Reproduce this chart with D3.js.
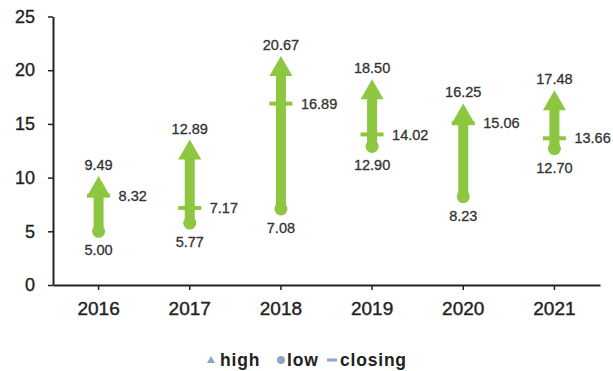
<!DOCTYPE html>
<html>
<head>
<meta charset="utf-8">
<script src="https://cdn.jsdelivr.net/npm/d3@7"></script>
<style>
  html, body { margin: 0; padding: 0; background: #fff; }
  svg { display: block; font-family: "Liberation Sans", Arial, Helvetica, sans-serif; }
</style>
</head>
<body>
<svg id="chart" width="613" height="371"></svg>
<script>
const years = ["2016", "2017", "2018", "2019", "2020", "2021"];
const high = [9.49, 12.89, 20.67, 18.50, 16.25, 17.48];
const low = [5.00, 5.77, 7.08, 12.90, 8.23, 12.70];
const closing = [8.32, 7.17, 16.89, 14.02, 15.06, 13.66];
const yTicks = [0, 5, 10, 15, 20, 25];
const legendItems = ["high", "low", "closing"];

const green = "#8DC63F";
const legendColor = "#8EA6C5";
const textColor = "#222";

const svg = d3.select("#chart");
const x = d3.scaleBand().domain(years).range([53, 600]).padding(0);
const y = d3.scaleLinear().domain([0, 25]).range([285, 16.5]);

// Y axis
const yAxis = svg.append("g")
  .attr("transform", "translate(53,0)")
  .call(d3.axisLeft(y).tickValues(yTicks).tickSize(5).tickSizeOuter(0).tickPadding(13));
yAxis.select(".domain").attr("stroke", "#222").attr("stroke-width", 2);
yAxis.selectAll(".tick line").attr("stroke", "#222").attr("stroke-width", 1.5);
yAxis.selectAll(".tick text").attr("fill", textColor).attr("font-size", 18).attr("font-family", null)
  .attr("stroke", textColor).attr("stroke-width", 0.35);

// X axis
const xAxis = svg.append("g")
  .attr("transform", "translate(0,285)")
  .call(d3.axisBottom(x).tickSize(5).tickSizeOuter(0).tickPadding(12));
xAxis.select(".domain").attr("stroke", "#222").attr("stroke-width", 2);
xAxis.selectAll(".tick line").attr("stroke", "#222").attr("stroke-width", 1.5);
xAxis.selectAll(".tick text").attr("fill", textColor).attr("font-size", 19).attr("font-family", null)
  .attr("stroke", textColor).attr("stroke-width", 0.4);

const data = years.map((yr, i) => ({ yr, high: high[i], low: low[i], close: closing[i] }));
const cx = d => x(d.yr) + x.bandwidth() / 2;

const g = svg.append("g");
const headTip = 7, headBase = 13, headHalf = 11.5, stemHalf = 5;

// stems
g.selectAll("rect.stem").data(data).join("rect")
  .attr("class", "stem")
  .attr("x", d => cx(d) - stemHalf)
  .attr("width", stemHalf * 2)
  .attr("y", d => y(d.high) + headBase - 1)
  .attr("height", d => y(d.low) - (y(d.high) + headBase - 1))
  .attr("fill", green);

// arrow heads
g.selectAll("path.head").data(data).join("path")
  .attr("class", "head")
  .attr("d", d => {
    const c = cx(d), t = y(d.high) - headTip, b = y(d.high) + headBase;
    return `M${c},${t}L${c + headHalf},${b}L${c - headHalf},${b}Z`;
  })
  .attr("fill", green);

// low circles
g.selectAll("circle.low").data(data).join("circle")
  .attr("class", "low")
  .attr("cx", cx)
  .attr("cy", d => y(d.low))
  .attr("r", 6.5)
  .attr("fill", green);

// closing bars
g.selectAll("rect.close").data(data).join("rect")
  .attr("class", "close")
  .attr("x", d => cx(d) - 11.5)
  .attr("width", 23)
  .attr("y", d => y(d.close) - 2)
  .attr("height", 4)
  .attr("fill", green);

// labels
const lbl = svg.append("g").attr("fill", "#333").attr("font-size", 14.5)
  .attr("stroke", "#333").attr("stroke-width", 0.3);
lbl.selectAll("text.hl").data(data).join("text")
  .attr("x", cx).attr("y", d => y(d.high) - 13)
  .attr("text-anchor", "middle")
  .text(d => d.high.toFixed(2));
lbl.selectAll("text.ll").data(data).join("text")
  .attr("x", cx).attr("y", d => y(d.low) + 24)
  .attr("text-anchor", "middle")
  .text(d => d.low.toFixed(2));
lbl.selectAll("text.cl").data(data).join("text")
  .attr("x", d => cx(d) + 20).attr("y", d => y(d.close))
  .attr("dy", "0.35em")
  .text(d => d.close.toFixed(2));

// legend
const legend = svg.append("g").attr("transform", "translate(0,360)");
const lx = [211, 281, 332];
const tx = [220, 287, 340];
legend.append("path").attr("d", `M${lx[0]},-4L${lx[0] + 4},3L${lx[0] - 4},3Z`).attr("fill", legendColor);
legend.append("circle").attr("cx", lx[1]).attr("cy", 0).attr("r", 4).attr("fill", legendColor);
legend.append("rect").attr("x", lx[2] - 5).attr("y", -1.5).attr("width", 10).attr("height", 3).attr("fill", legendColor);
legend.selectAll("text").data(legendItems).join("text")
  .attr("x", (d, i) => tx[i]).attr("y", 0).attr("dy", "0.35em")
  .attr("fill", textColor).attr("font-size", 17.5).attr("font-weight", "bold")
  .attr("letter-spacing", 0.8)
  .text(d => d);
</script>
</body>
</html>
